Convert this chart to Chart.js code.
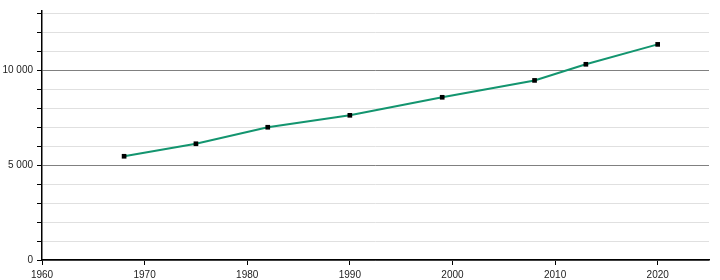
<!DOCTYPE html>
<html>
<head>
<meta charset="utf-8">
<script src="https://cdn.jsdelivr.net/npm/chart.js@4"></script>
<style>
  html, body { margin: 0; padding: 0; background: #fff; }
  #wrap { width: 720px; height: 280px; }
</style>
</head>
<body>
<div id="wrap"><canvas id="chart"></canvas></div>
<script>
// ─── Data ────────────────────────────────────────────────────────────────────
const years = [1968, 1975, 1982, 1990, 1999, 2008, 2013, 2020];
const population = [5470, 6130, 7000, 7630, 8580, 9470, 10320, 11370];

// Tick positions: x every 10 years, y minor every 1000 with labels at 5000s
const xTicks = [1960, 1970, 1980, 1990, 2000, 2010, 2020];
const yTicks = [0, 1000, 2000, 3000, 4000, 5000, 6000, 7000, 8000, 9000, 10000, 11000, 12000, 13000];
const yLabelled = [0, 5000, 10000];

const X_MIN = 1960, X_MAX = 2025;
const Y_MIN = 0, Y_MAX = 13130;

const FONT = { family: '"Liberation Sans", Arial, sans-serif', size: 10 };

function formatThousands(v) {
  return String(v).replace(/\B(?=(\d{3})+(?!\d))/g, ' ');
}

new Chart(document.getElementById('chart'), {
  type: 'line',
  data: {
    datasets: [{
      data: years.map((y, i) => ({ x: y, y: population[i] })),
      borderColor: '#13956f',
      borderWidth: 2,
      pointStyle: 'rect',
      pointRadius: 3.3,
      pointBackgroundColor: '#000',
      pointBorderColor: '#000',
      pointBorderWidth: 0,
      tension: 0,
    }],
  },
  options: {
    responsive: true,
    maintainAspectRatio: false,
    animation: false,
    layout: { padding: { top: 11, right: 11, left: 0, bottom: 0 } },
    plugins: { legend: { display: false }, tooltip: { enabled: false } },
    scales: {
      x: {
        type: 'linear',
        min: X_MIN,
        max: X_MAX,
        afterBuildTicks: axis => { axis.ticks = xTicks.map(v => ({ value: v })); },
        afterFit: axis => { axis.height = 20; },
        ticks: {
          color: '#222',
          font: FONT,
          padding: 4,
          maxRotation: 0,
          autoSkip: false,
          callback: v => String(v),
        },
        grid: {
          drawOnChartArea: false,
          drawTicks: true,
          tickLength: 5,
          tickColor: '#000',
          tickWidth: 1,
        },
        border: { color: '#000', width: 1.5 },
      },
      y: {
        min: Y_MIN,
        max: Y_MAX,
        afterBuildTicks: axis => { axis.ticks = yTicks.map(v => ({ value: v })); },
        afterFit: axis => { axis.width = 42; },
        ticks: {
          color: '#222',
          font: FONT,
          padding: 4,
          autoSkip: false,
          callback: v => (yLabelled.includes(v) ? formatThousands(v) : ''),
        },
        grid: {
          color: ctx => (ctx.tick && yLabelled.includes(ctx.tick.value) ? '#808080' : '#e0e0e0'),
          lineWidth: 1,
          drawTicks: true,
          tickLength: 5,
          tickColor: '#000',
        },
        border: { color: '#000', width: 1.5 },
      },
    },
  },
});
</script>
</body>
</html>
